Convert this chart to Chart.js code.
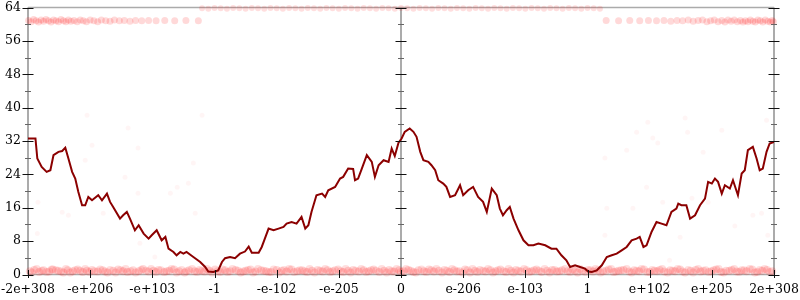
<!DOCTYPE html>
<html>
<head>
<meta charset="utf-8">
<script src="https://cdn.jsdelivr.net/npm/chart.js@4.4.1/dist/chart.umd.min.js"></script>
<style>
html,body{margin:0;padding:0;background:#fff;}
#wrap{width:800px;height:300px;}
</style>
</head>
<body>
<div id="wrap"><canvas id="c" width="800" height="300"></canvas></div>
<script>
// ---- data ----
const xTickValues = [-6,-5,-4,-3,-2,-1,0,1,2,3,4,5,6];
const xTickLabels = ['-2e+308','-e+206','-e+103','-1','-e-102','-e-205','0','e-206','e-103','1','e+102','e+205','2e+308'];
const yTickValues = [0,8,16,24,32,40,48,56,64];
const yMinorTicks = [4,12,20,28,36,44,52,60];

const walkT = [-6.00,-5.88,-5.85,-5.78,-5.70,-5.64,-5.59,-5.51,-5.45,-5.40,-5.35,-5.29,-5.24,-5.19,-5.13,-5.08,-5.03,-4.97,-4.87,-4.81,-4.73,-4.68,-4.63,-4.52,-4.47,-4.41,-4.36,-4.28,-4.22,-4.14,-4.06,-4.01,-3.93,-3.85,-3.79,-3.74,-3.66,-3.61,-3.55,-3.50,-3.45,-3.34,-3.23,-3.15,-3.10,-3.02,-2.94,-2.88,-2.83,-2.75,-2.67,-2.59,-2.51,-2.45,-2.40,-2.29,-2.24,-2.19,-2.13,-2.05,-1.97,-1.89,-1.84,-1.76,-1.68,-1.60,-1.54,-1.49,-1.44,-1.36,-1.27,-1.22,-1.17,-1.06,-0.98,-0.93,-0.85,-0.77,-0.74,-0.69,-0.63,-0.55,-0.47,-0.42,-0.36,-0.28,-0.20,-0.15,-0.10,-0.04,0.01,0.06,0.14,0.20,0.25,0.31,0.36,0.44,0.49,0.55,0.60,0.68,0.73,0.79,0.87,0.95,1.00,1.08,1.16,1.24,1.32,1.38,1.46,1.54,1.59,1.64,1.70,1.75,1.81,1.89,1.97,2.05,2.13,2.21,2.32,2.42,2.50,2.58,2.66,2.72,2.80,2.88,2.96,3.01,3.07,3.15,3.23,3.31,3.39,3.47,3.55,3.63,3.71,3.79,3.84,3.90,3.95,4.03,4.11,4.19,4.27,4.35,4.43,4.46,4.51,4.59,4.65,4.73,4.81,4.89,4.94,5.00,5.05,5.10,5.16,5.21,5.29,5.34,5.42,5.48,5.53,5.58,5.66,5.72,5.77,5.82,5.88,5.93,6.00];
const walkV = [32.6,32.6,27.8,25.8,24.6,25.0,28.6,29.4,29.6,30.4,27.8,24.6,23.0,19.8,16.6,16.6,18.6,17.8,19.0,17.8,19.4,17.4,16.2,13.4,14.2,15.0,13.4,10.6,11.8,9.8,8.6,9.4,10.6,8.2,9.0,6.2,5.4,4.6,5.4,5.0,5.4,4.2,3.0,1.8,0.7,0.6,1.0,3.0,3.9,4.2,3.9,5.0,5.5,6.7,5.2,5.2,6.6,8.6,11.0,10.6,11.0,11.4,12.2,12.6,12.2,13.8,11.0,11.8,15.0,19.0,19.4,18.6,20.2,21.0,23.0,23.4,25.4,25.3,22.6,23.0,25.4,28.6,27.0,23.4,26.2,27.4,27.0,30.2,28.4,31.6,32.6,34.2,35.0,34.2,33.0,29.4,27.4,27.0,26.2,25.0,22.6,21.8,21.0,18.6,19.0,21.4,19.0,20.2,21.0,18.6,17.4,15.0,20.6,19.0,15.8,14.2,15.4,16.2,13.4,10.6,8.2,7.0,7.0,7.4,7.0,6.2,6.2,4.6,3.4,1.8,2.2,1.8,1.4,0.7,0.6,1.0,2.2,4.2,4.6,5.0,5.8,6.6,8.2,8.6,9.0,6.6,7.0,10.2,12.6,12.2,11.8,15.0,15.8,17.0,16.6,16.6,13.4,14.2,16.6,18.2,22.2,21.8,23.0,22.2,19.4,21.4,20.6,22.6,19.0,24.2,25.0,29.8,30.6,27.8,25.0,25.4,29.4,31.4,31.8];

// faint sample points: [t, value]
const lowBand = [[-5.97,0.8],[-5.9,1.1],[-5.82,0.6],[-5.75,1.0],[-5.66,0.7],[-5.6,1.2],[-5.51,0.9],[-5.43,0.5],[-5.36,1.0],[-5.28,0.8],[-5.2,1.2],[-5.12,0.6],[-5.05,0.9],[-4.97,1.1],[-4.88,0.7],[-4.8,1.0],[-4.72,0.5],[-4.63,0.9],[-4.55,1.2],[-4.47,0.8],[-4.4,0.6],[-4.31,1.0],[-4.22,0.8],[-4.15,1.3],[-4.06,0.7],[-3.98,0.9],[-3.9,1.1],[-3.81,0.6],[-3.73,0.9],[-3.65,1.2],[-3.57,0.8],[-3.48,0.5],[-3.41,1.0],[-3.32,0.8],[-3.24,1.1],[-3.16,0.7],[-3.08,0.9],[-2.99,1.2],[-2.91,0.6],[-2.83,1.0],[-2.75,0.8],[-2.66,1.1],[-2.58,0.5],[-2.5,0.9],[-2.42,1.2],[-2.34,0.7],[-2.25,1.0],[-2.17,0.8],[-2.09,0.6],[-2.0,1.1],[-1.92,0.9],[-1.84,0.7],[-1.76,1.2],[-1.67,0.8],[-1.59,1.0],[-1.51,0.6],[-1.43,0.9],[-1.34,1.1],[-1.26,0.7],[-1.18,1.0],[-1.1,0.8],[-1.01,1.2],[-0.93,0.6],[-0.85,0.9],[-0.77,1.1],[-0.68,0.7],[-0.6,1.0],[-0.52,0.8],[-0.44,1.2],[-0.35,0.6],[-0.27,0.9],[-0.19,1.1],[-0.11,0.7],[-0.03,1.0],
[0.04,0.8],[0.12,1.1],[0.2,0.6],[0.28,1.0],[0.37,0.8],[0.45,1.2],[0.53,0.7],[0.61,0.9],[0.7,1.1],[0.78,0.6],[0.86,1.0],[0.94,0.8],[1.03,1.2],[1.11,0.5],[1.19,0.9],[1.27,1.1],[1.36,0.7],[1.44,1.0],[1.52,0.8],[1.6,1.2],[1.69,0.6],[1.77,0.9],[1.85,1.1],[1.93,0.7],[2.02,1.0],[2.1,0.8],[2.18,1.2],[2.26,0.6],[2.35,0.9],[2.43,1.1],[2.51,0.7],[2.59,1.0],[2.68,0.8],[2.76,1.2],[2.84,0.5],[2.92,0.9],[3.01,1.1],[3.09,0.7],[3.17,1.0],[3.25,0.8],[3.34,1.2],[3.42,0.6],[3.5,0.9],[3.58,1.1],[3.67,0.7],[3.75,1.0],[3.83,0.8],[3.91,1.2],[4.0,0.6],[4.08,0.9],[4.16,1.1],[4.24,0.7],[4.33,1.0],[4.41,0.8],[4.49,1.2],[4.57,0.5],[4.66,0.9],[4.74,1.1],[4.82,0.7],[4.9,1.0],[4.99,0.8],[5.07,1.2],[5.15,0.6],[5.23,0.9],[5.32,1.1],[5.4,0.7],[5.48,1.0],[5.56,0.8],[5.65,1.2],[5.73,0.6],[5.81,0.9],[5.89,1.1],[5.97,0.8]];
const lowBand2 = [[-5.94,0.5],[-5.86,1.3],[-5.78,0.9],[-5.7,0.6],[-5.62,1.2],[-5.55,1.0],[-5.47,0.7],[-5.39,1.3],[-5.32,0.5],[-5.24,1.0],[-5.16,0.9],[-5.08,1.3],[-5.01,0.6],[-4.93,0.8],[-4.84,1.2],[-4.76,0.7],[-4.68,1.1],[-4.59,0.5],[-4.51,1.0],[-4.43,1.3],[-4.35,0.8],[-4.27,0.5],[-4.18,1.1],[-4.1,0.9],[-4.02,1.3],[-3.94,0.6],[-3.86,1.0],[-3.77,0.8],[-3.69,1.3],[-3.61,0.5],[-3.53,1.1],[-3.45,0.8],[-3.36,1.3],[-3.28,0.6],[-3.2,0.9],[-3.12,1.3],[-3.04,0.5],[-2.95,0.8],[-2.87,1.2],[-2.79,0.6],[-2.71,1.3],[-2.62,0.9],[-2.54,0.7],[-2.46,1.1],[-2.38,0.5],[-2.3,1.3],[-2.21,0.9],[-2.13,0.6],[-2.05,1.2],[-1.96,0.5],[-1.88,1.1],[-1.8,1.3],[-1.72,0.6],[-1.63,1.0],[-1.55,0.8],[-1.47,1.3],[-1.39,0.5],[-1.3,0.9],[-1.22,1.3],[-1.14,0.6],[-1.06,1.0],[-0.97,0.8],[-0.89,1.3],[-0.81,0.5],[-0.73,0.9],[-0.64,1.3],[-0.56,0.6],[-0.48,1.0],[-0.4,0.9],[-0.31,1.3],[-0.23,0.5],[-0.15,0.8],[-0.07,1.3],[0.0,0.6],
[0.08,1.3],[0.16,0.9],[0.24,0.5],[0.33,1.2],[0.41,0.6],[0.49,1.0],[0.57,1.3],[0.66,0.5],[0.74,0.9],[0.82,1.3],[0.9,0.7],[0.99,0.5],[1.07,1.0],[1.15,1.3],[1.23,0.6],[1.32,0.9],[1.4,1.3],[1.48,0.5],[1.56,1.0],[1.65,0.8],[1.73,1.3],[1.81,0.5],[1.89,0.9],[1.98,1.3],[2.06,0.6],[2.14,1.0],[2.22,0.9],[2.31,1.3],[2.39,0.5],[2.47,1.1],[2.55,0.8],[2.64,1.3],[2.72,0.6],[2.8,0.9],[2.88,1.3],[2.97,0.6],[3.05,1.0],[3.13,1.3],[3.21,0.5],[3.3,0.9],[3.38,1.3],[3.46,0.7],[3.54,1.0],[3.63,1.3],[3.71,0.5],[3.79,0.9],[3.87,1.3],[3.96,0.6],[4.04,1.1],[4.12,0.8],[4.2,1.3],[4.29,0.5],[4.37,0.9],[4.45,1.3],[4.53,0.7],[4.62,1.1],[4.7,0.5],[4.78,1.3],[4.86,0.9],[4.95,0.6],[5.03,1.0],[5.11,1.3],[5.19,0.5],[5.28,0.9],[5.36,1.3],[5.44,0.6],[5.52,1.0],[5.61,1.3],[5.69,0.5],[5.77,1.1],[5.85,1.3],[5.93,0.6]];
const highBandLeft = [[-5.99,60.9],[-5.95,60.6],[-5.91,61.1],[-5.87,60.8],[-5.83,60.5],[-5.79,61.0],[-5.75,60.7],[-5.71,61.1],[-5.67,60.8],[-5.63,60.5],[-5.59,61.0],[-5.55,60.8],[-5.51,60.6],[-5.47,61.1],[-5.43,60.8],[-5.39,60.6],[-5.35,61.0],[-5.31,60.7],[-5.26,60.9],[-5.21,60.6],[-5.16,61.0],[-5.11,60.8],[-5.06,60.6],[-5.0,61.0],[-4.94,60.8],[-4.88,60.6],[-4.82,61.0],[-4.75,60.8],[-4.68,60.7],[-4.61,61.0],[-4.53,60.8],[-4.45,60.9],[-4.36,60.7],[-4.27,60.9],[-4.17,60.8],[-4.06,60.9],[-3.94,60.8],[-3.8,60.9],[-3.64,60.8],[-3.46,60.9],[-3.26,60.8]];
const highBandRight = [[3.3,60.9],[3.5,60.8],[3.68,60.9],[3.84,60.8],[3.98,60.9],[4.11,60.8],[4.23,60.9],[4.34,60.7],[4.44,60.9],[4.53,60.8],[4.62,61.0],[4.7,60.7],[4.78,60.9],[4.85,61.0],[4.92,60.6],[4.98,60.8],[5.04,61.0],[5.1,60.6],[5.16,60.9],[5.21,60.5],[5.26,61.0],[5.31,60.7],[5.36,61.0],[5.41,60.6],[5.46,60.9],[5.5,60.5],[5.54,60.8],[5.58,60.6],[5.62,61.0],[5.66,60.7],[5.7,60.5],[5.74,61.0],[5.78,60.8],[5.82,60.5],[5.86,61.0],[5.9,60.7],[5.94,60.5],[5.97,60.9],[5.99,60.6]];
const topBand = [[-3.2,63.8],[-3.1,63.7],[-3.0,63.9],[-2.9,63.8],[-2.8,63.7],[-2.7,63.9],[-2.6,63.8],[-2.5,63.7],[-2.4,63.9],[-2.3,63.8],[-2.2,63.7],[-2.1,63.9],[-2.0,63.8],[-1.9,63.7],[-1.8,63.9],[-1.7,63.8],[-1.6,63.7],[-1.5,63.9],[-1.4,63.8],[-1.3,63.7],[-1.2,63.9],[-1.1,63.8],[-1.0,63.7],[-0.9,63.9],[-0.8,63.8],[-0.7,63.7],[-0.6,63.9],[-0.5,63.8],[-0.4,63.7],[-0.3,63.9],[-0.2,63.8],[-0.1,63.7],[0.0,63.9],[0.1,63.8],[0.2,63.7],[0.3,63.9],[0.4,63.8],[0.5,63.7],[0.6,63.9],[0.7,63.8],[0.8,63.7],[0.9,63.9],[1.0,63.8],[1.1,63.7],[1.2,63.9],[1.3,63.8],[1.4,63.7],[1.5,63.9],[1.6,63.8],[1.7,63.7],[1.8,63.9],[1.9,63.8],[2.0,63.7],[2.1,63.9],[2.2,63.8],[2.3,63.7],[2.4,63.9],[2.5,63.8],[2.6,63.7],[2.7,63.9],[2.8,63.8],[2.9,63.7],[3.0,63.9],[3.1,63.8],[3.2,63.7]];
const strayPoints = [[-5.05,38.2],[-3.20,38.2],[-4.39,35.1],[-4.23,30.3],[-4.97,31.0],[-5.08,27.4],[-4.44,23.3],[-5.84,17.3],[-5.45,14.9],[-5.35,14.2],[-3.34,26.7],[-3.42,21.9],[-3.60,20.9],[-3.71,19.5],[-4.23,19.5],[-4.79,14.7],[-3.31,14.7],[-5.85,9.8],[-4.20,7.5],[-3.96,4.2],
[3.97,36.5],[4.61,34.1],[5.16,34.6],[3.79,34.1],[4.05,32.7],[4.13,31.5],[3.63,29.8],[3.28,27.9],[4.86,29.3],[3.95,20.9],[4.21,17.3],[4.68,18.3],[4.94,17.3],[3.31,15.9],[3.73,15.9],[5.66,14.2],[5.80,14.7],[5.37,11.6],[4.49,8.9],[3.28,9.4],[5.88,37.0],[4.57,37.5],[4.32,3.4],[5.90,9.4]];

// ---- chart ----
const toXY = arr => arr.map(p => ({x: p[0], y: p[1]}));
const walk = walkT.map((t, i) => ({x: t, y: walkV[i]}));
const FONT = "12.5px 'DejaVu Serif', serif";

const framePlugin = {
  id: 'frame',
  beforeDatasetsDraw(chart) {
    const {ctx, scales: {x, y}} = chart;
    const top = y.getPixelForValue(64), bot = y.getPixelForValue(0);
    const xl = x.getPixelForValue(-6), xr = x.getPixelForValue(6), xc = x.getPixelForValue(0);
    ctx.save();
    ctx.strokeStyle = '#ababab';
    ctx.lineWidth = 1.5;
    ctx.beginPath();
    ctx.moveTo(xl, top); ctx.lineTo(xr, top);
    ctx.moveTo(xl, bot); ctx.lineTo(xr, bot);
    ctx.stroke();
    ctx.lineWidth = 2;
    ctx.beginPath();
    [xl, xc, xr].forEach(px => { ctx.moveTo(px, top); ctx.lineTo(px, bot); });
    ctx.stroke();
    ctx.restore();
  },
  afterDatasetsDraw(chart) {
    const {ctx, scales: {x, y}} = chart;
    const bot = y.getPixelForValue(0);
    const axesX = [x.getPixelForValue(-6), x.getPixelForValue(0), x.getPixelForValue(6)];
    ctx.save();
    ctx.lineWidth = 1;
    ctx.strokeStyle = '#111';
    ctx.beginPath();
    axesX.forEach(px => {
      yTickValues.forEach(v => {
        const py = Math.round(y.getPixelForValue(v)) + 0.5;
        ctx.moveTo(px - 5.5, py); ctx.lineTo(px + 5.5, py);
      });
    });
    xTickValues.forEach(v => {
      const px = Math.round(x.getPixelForValue(v)) + 0.5;
      ctx.moveTo(px, bot - 4.5); ctx.lineTo(px, bot + 3.5);
    });
    ctx.stroke();
    ctx.strokeStyle = '#666';
    ctx.beginPath();
    axesX.forEach(px => {
      yMinorTicks.forEach(v => {
        const py = Math.round(y.getPixelForValue(v)) + 0.5;
        ctx.moveTo(px - 3, py); ctx.lineTo(px + 3, py);
      });
    });
    ctx.stroke();
    // tick labels
    ctx.fillStyle = '#000';
    ctx.font = FONT;
    ctx.textBaseline = 'middle';
    ctx.textAlign = 'right';
    yTickValues.forEach(v => ctx.fillText(String(v), axesX[0] - 7, y.getPixelForValue(v)));
    ctx.textAlign = 'center';
    xTickValues.forEach((v, i) => ctx.fillText(xTickLabels[i], x.getPixelForValue(v), bot + 15));
    ctx.restore();
  }
};

const faint = (data, alpha, r) => ({
  type: 'scatter', data: toXY(data), showLine: false,
  pointRadius: r, pointHoverRadius: r, borderWidth: 0,
  backgroundColor: `rgba(255,0,0,${alpha})`, clip: false
});

new Chart(document.getElementById('c'), {
  type: 'scatter',
  data: {
    datasets: [
      { type: 'line', data: walk, borderColor: '#8b0000', borderWidth: 2, pointRadius: 0, fill: false, tension: 0 },
      faint(lowBand, 0.15, 4),
      faint(lowBand2, 0.13, 4),
      faint(highBandLeft, 0.15, 3.5),
      faint(highBandRight, 0.15, 3.5),
      faint(topBand, 0.13, 3),
      faint(strayPoints, 0.04, 2.5)
    ]
  },
  options: {
    responsive: false,
    animation: false,
    events: [],
    layout: { autoPadding: false, padding: { top: 7.5, right: 26, left: 28, bottom: 25.5 } },
    plugins: { legend: { display: false }, tooltip: { enabled: false } },
    scales: {
      x: { type: 'linear', min: -6, max: 6, display: false },
      y: { type: 'linear', min: 0, max: 64, display: false }
    }
  },
  plugins: [framePlugin]
});
</script>
</body>
</html>
